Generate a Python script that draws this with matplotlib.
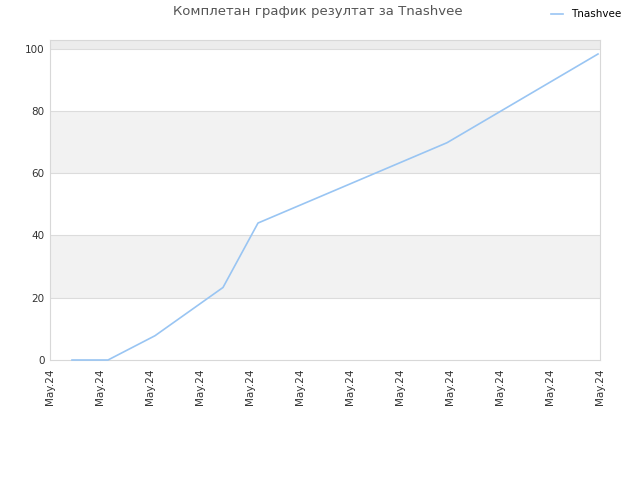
import numpy as np
import matplotlib.pyplot as plt

title = 'Комплетан график резултат за Tnashvee'
series_name = 'Tnashvee'
tick_labels = ['May.24'] * 12
x_vals = [0.44, 1.16, 2.1, 3.46, 4.16, 7.94, 10.96]
y_vals = [0.0, 0.0, 7.8, 23.3, 44.0, 69.8, 98.3]

fig = plt.figure(figsize=(6.4, 4.8), dpi=100)
ax = fig.add_axes([50 / 640, 120 / 480, 550 / 640, 320 / 480])

ymax = 102.8
ax.set_xlim(0, 11)
ax.set_ylim(0, ymax)

# alternating bands
for lo in [20, 60]:
    ax.axhspan(lo, lo + 20, color='#f2f2f2', zorder=0, lw=0)
ax.axhspan(100, ymax, color='#ececec', zorder=0, lw=0)
for yv in [20, 40, 60, 80, 100]:
    ax.axhline(yv, color='#dcdcdc', lw=0.8, zorder=1)

ax.plot(x_vals, y_vals, color='#99c5f3', lw=1.2, label=series_name, zorder=3,
        clip_on=False)

ax.set_xticks(np.arange(12))
ax.set_xticklabels(tick_labels, rotation=90, fontsize=7.5, color='#333333')
ax.set_yticks(np.arange(0, 101, 20))
ax.tick_params(axis='y', labelsize=7.5, labelcolor='#333333', length=0, pad=4)
ax.tick_params(axis='x', length=0, pad=6)
for s in ax.spines.values():
    s.set_color('#d8d8d8')
    s.set_linewidth(0.8)

fig.text(318 / 640, 1 - 12 / 480, title, ha='center', va='center',
         fontsize=9.5, color='#555555')
fig.legend(loc='upper right', bbox_to_anchor=(0.986, 1.0), frameon=False,
           fontsize=7.5, handlelength=1.2, handletextpad=0.8)

fig.savefig('out.png', dpi=100)
